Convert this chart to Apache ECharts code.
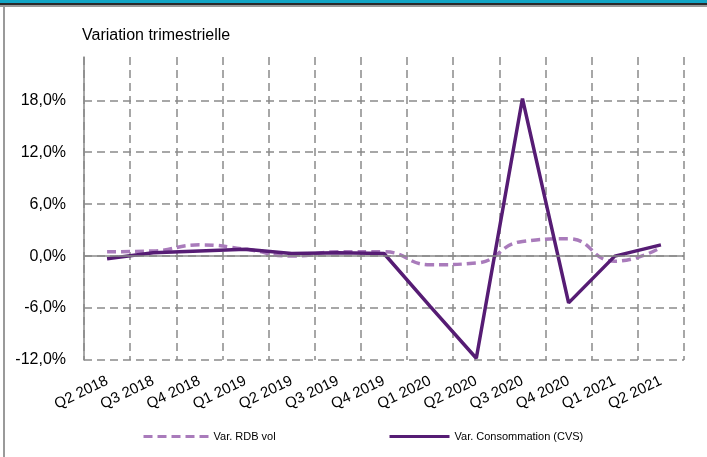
<!DOCTYPE html>
<html>
<head>
<meta charset="utf-8">
<script src="https://cdn.jsdelivr.net/npm/echarts@6/dist/echarts.min.js"></script>
<style>
  html, body { margin: 0; padding: 0; background: #fff; }
  #chart { width: 707px; height: 457px; }
</style>
</head>
<body>
<div id="chart"></div>
<script>
const quarters = ['Q2 2018','Q3 2018','Q4 2018','Q1 2019','Q2 2019','Q3 2019','Q4 2019',
  'Q1 2020','Q2 2020','Q3 2020','Q4 2020','Q1 2021','Q2 2021']
const rdbVol = [0.5, 0.6, 1.3, 0.8, 0.0, 0.5, 0.5, -1.0, -0.8, 1.7, 2.0, -0.6, 1.0]
const consommation = [-0.3, 0.4, 0.6, 0.8, 0.3, 0.4, 0.3, -5.8, -11.8, 18.2, -5.4, 0.0, 1.3]

const GRID_GRAY = '#8a8a8a'
const FONT = 'Liberation Sans'

const chart = echarts.init(document.getElementById('chart'), null, { renderer: 'canvas' })

chart.setOption({
  animation: false,
  textStyle: { fontFamily: FONT, color: '#000' },
  title: {
    text: 'Variation trimestrielle',
    left: 77, top: 23,
    textStyle: { fontFamily: FONT, fontSize: 16, fontWeight: 'normal', color: '#000' }
  },
  // frame decorations
  graphic: [
    { type: 'rect', shape: { x: 0, y: 0, width: 707, height: 3 }, style: { fill: '#12a6c6' } },
    { type: 'rect', shape: { x: 0, y: 3, width: 707, height: 2 }, style: { fill: '#2a2a2a' } },
    { type: 'rect', shape: { x: 0, y: 5, width: 707, height: 2 }, style: { fill: '#9a9a9a' } },
    { type: 'rect', shape: { x: 3, y: 7, width: 2, height: 450 }, style: { fill: '#9a9a9a' } }
  ],
  legend: [
    {
      data: ['Var. RDB vol'], left: 137, top: 426,
      itemWidth: 65, itemHeight: 14,
      itemStyle: { opacity: 0 },
      lineStyle: { width: 3 },
      textStyle: { fontFamily: FONT, fontSize: 11, color: '#000' }
    },
    {
      data: ['Var. Consommation (CVS)'], left: 383, top: 426,
      itemWidth: 60, itemHeight: 14,
      itemStyle: { opacity: 0 },
      lineStyle: { width: 3 },
      textStyle: { fontFamily: FONT, fontSize: 11, color: '#000' }
    }
  ],
  grid: { left: 84, right: 23, top: 57, bottom: 97, containLabel: false },
  xAxis: {
    type: 'category',
    data: quarters,
    boundaryGap: true,
    axisLine: { show: false },
    axisTick: { show: false },
    axisLabel: { rotate: 26, margin: 20, fontSize: 15, color: '#000', fontFamily: FONT, interval: 0 },
    splitLine: { show: true, interval: 0, lineStyle: { color: GRID_GRAY, width: 1.5, type: [8, 5] } }
  },
  yAxis: {
    type: 'value',
    min: -12, max: 23, interval: 6,
    axisLine: { show: true, lineStyle: { color: GRID_GRAY, width: 1.5 } },
    axisTick: { show: false },
    axisLabel: {
      showMaxLabel: false, margin: 18, fontSize: 16, color: '#000', fontFamily: FONT,
      formatter: v => v.toFixed(1).replace('.', ',') + '%'
    },
    splitLine: { show: true, showMaxLine: false, lineStyle: { color: GRID_GRAY, width: 1.5, type: [8, 5] } }
  },
  series: [
    {
      name: 'Var. RDB vol',
      type: 'line',
      data: rdbVol,
      smooth: 0.5,
      symbol: 'none',
      z: 3,
      lineStyle: { color: '#a97bbb', width: 3.5, type: [9, 5] },
      itemStyle: { color: '#a97bbb' },
      markLine: {
        silent: true,
        symbol: 'none',
        label: { show: false },
        lineStyle: { color: GRID_GRAY, width: 1.5, type: 'solid' },
        data: [{ yAxis: 0 }]
      }
    },
    {
      name: 'Var. Consommation (CVS)',
      type: 'line',
      data: consommation,
      symbol: 'none',
      z: 4,
      lineStyle: { color: '#561c74', width: 3.5 },
      itemStyle: { color: '#561c74' }
    }
  ]
})
</script>
</body>
</html>
